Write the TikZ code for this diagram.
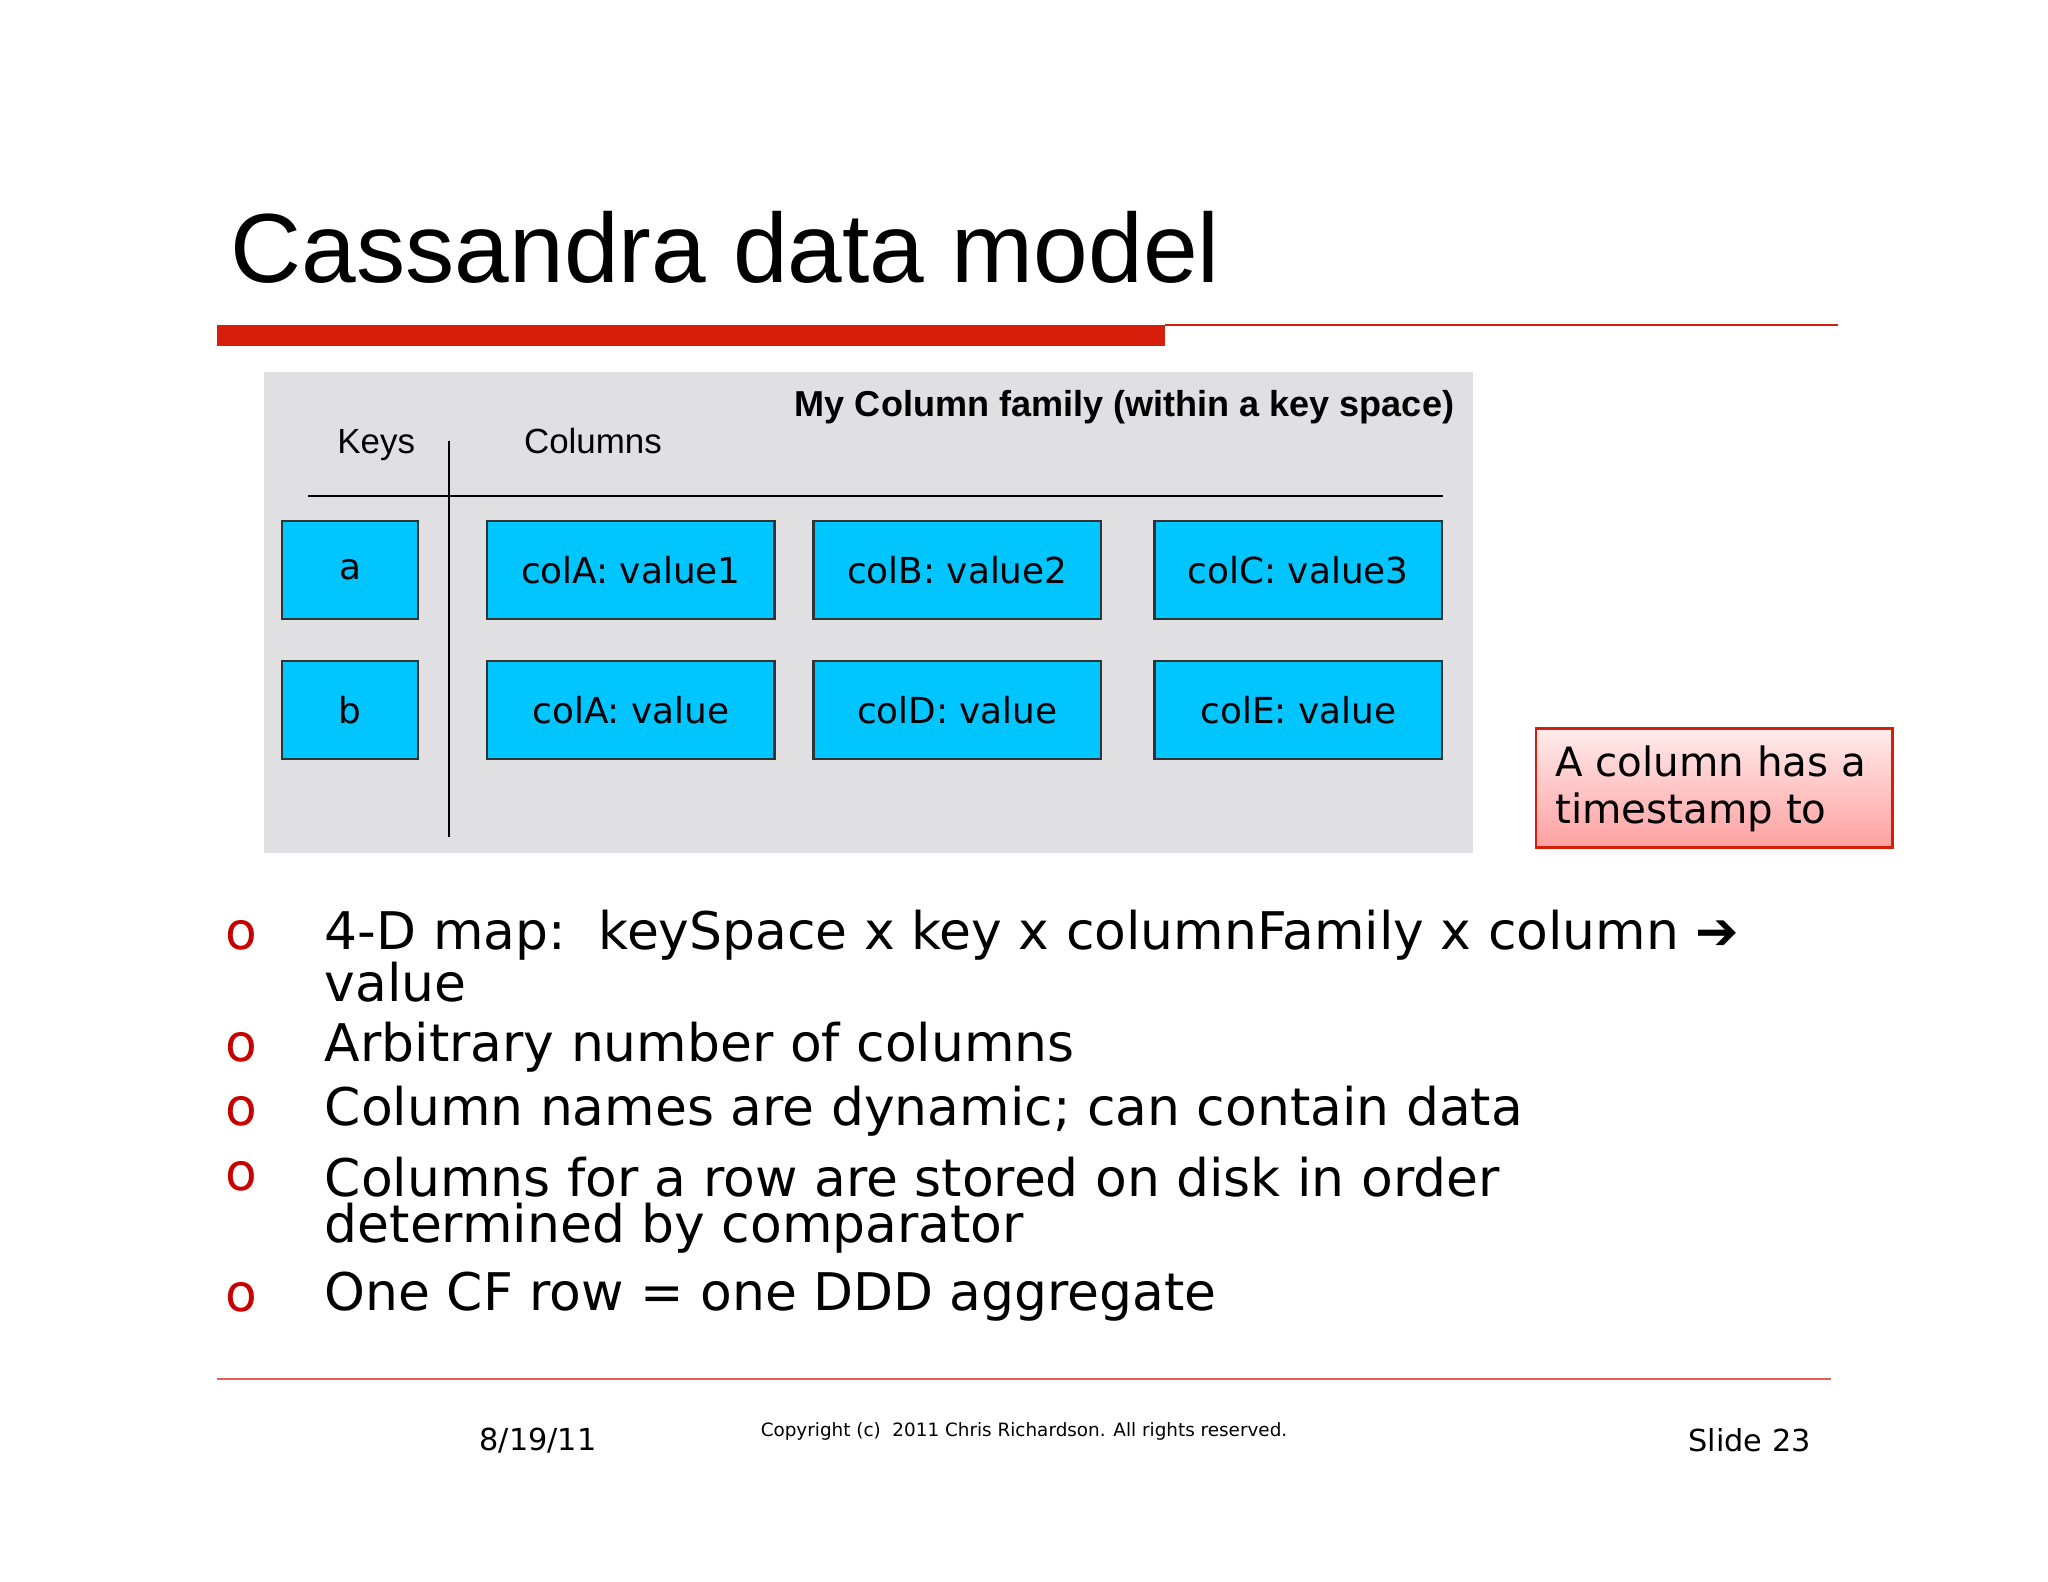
\documentclass[tikz,border=0pt]{standalone}
\usepackage{fontspec}
\setmainfont{DejaVu Sans}
\newfontfamily\arial{Liberation Sans}
\begin{document}
\begin{tikzpicture}[x=0.01cm,y=-0.01cm,
  cell/.style={draw=black!80,fill={rgb,255:red,0;green,197;blue,255},line width=0.5pt,minimum height=0.75cm,inner sep=0pt,font=\fontsize{7.8}{9}\selectfont},
  bul/.style={anchor=west,font=\fontsize{11.3}{12}\selectfont,inner sep=0pt},
  bo/.style={anchor=center,text={rgb,255:red,200;green,0;blue,0},font=\fontsize{11.3}{12}\selectfont,inner sep=0pt}]
\definecolor{slred}{RGB}{215,30,10}
\definecolor{panel}{RGB}{224,224,226}
\useasboundingbox (0,0) rectangle (1568,1211);
% title
\node[anchor=base west,inner sep=0pt,font=\arial\fontsize{21.4}{22}\selectfont] (title) at (176,216) {Cassandra data model};
\fill[slred] (166,249) rectangle (892,265);
\draw[slred,line width=0.4pt] (892,249) -- (1407,249);
% panel
\fill[panel] (202,285) rectangle (1128,653);
\node[anchor=base east,inner sep=0pt,font=\arial\bfseries\fontsize{7.85}{8}\selectfont] (cf) at (1114,319) {My Column family (within a key space)};
\node[anchor=base,inner sep=0pt,font=\arial\fontsize{7.6}{8}\selectfont] (keys) at (288,347) {Keys};
\node[anchor=base,inner sep=0pt,font=\arial\fontsize{7.6}{8}\selectfont] (cols) at (454,347) {Columns};
\coordinate (h1) at (236,380); \coordinate (h2) at (1105,380);
\coordinate (v1) at (344,338); \coordinate (v2) at (344,641);
\draw[line width=0.5pt] (h1) -- (h2);
\draw[line width=0.5pt] (v1) -- (v2);
\node[cell,minimum width=1.04cm] (a) at (268,436.5) {a};
\node[cell,minimum width=2.2cm] (ca) at (483,436.5) {colA: value1};
\node[cell,minimum width=2.2cm] (cb) at (733,436.5) {colB: value2};
\node[cell,minimum width=2.2cm] (cc) at (994,436.5) {colC: value3};
\node[cell,minimum width=1.04cm] (b) at (268,543.5) {b};
\node[cell,minimum width=2.2cm] (da) at (483,543.5) {colA: value};
\node[cell,minimum width=2.2cm] (db) at (733,543.5) {colD: value};
\node[cell,minimum width=2.2cm] (dc) at (994,543.5) {colE: value};
% callout
\shade[top color={rgb,255:red,255;green,235;blue,235},bottom color={rgb,255:red,255;green,160;blue,160}] (1176,558) rectangle (1449,649);
\draw[slred,line width=0.6pt] (1176,558) rectangle (1449,649);
\node[anchor=north west,align=left,inner sep=0pt,font=\fontsize{8.8}{10.3}\selectfont] (call) at (1190,570) {A column has a\\timestamp to};
% bullets
\node[bo] (o1) at (185,716) {o};
\node[bul] (t1) at (248,716) {4-D map:\ \ keySpace x key x columnFamily x column ➔};
\node[bul] (t1b) at (248,752) {value};
\node[bo] (o2) at (185,802) {o};
\node[bul] (t2) at (248,802) {Arbitrary number of columns};
\node[bo] (o3) at (185,851) {o};
\node[bul] (t3) at (248,851) {Column names are dynamic; can contain data};
\node[bo] (o4) at (185,901) {o};
\node[bul] (t4) at (248,901) {Columns for a row are stored on disk in order};
\node[bul] (t4b) at (248,940) {determined by comparator};
\node[bo] (o5) at (185,993) {o};
\node[bul] (t5) at (248,993) {One CF row = one DDD aggregate};
% footer
\draw[slred!70,line width=0.4pt] (166,1056) -- (1402,1056);
\node[inner sep=0pt,font=\fontsize{6.6}{7}\selectfont] (date) at (412,1103) {8/19/11};
\node[inner sep=0pt,font=\fontsize{4.0}{5}\selectfont] (copy) at (784,1096) {Copyright (c)\ \ 2011 Chris Richardson. All rights reserved.};
\node[anchor=east,inner sep=0pt,font=\fontsize{6.6}{7}\selectfont] (slide) at (1387,1103) {Slide 23};
\end{tikzpicture}
\end{document}
